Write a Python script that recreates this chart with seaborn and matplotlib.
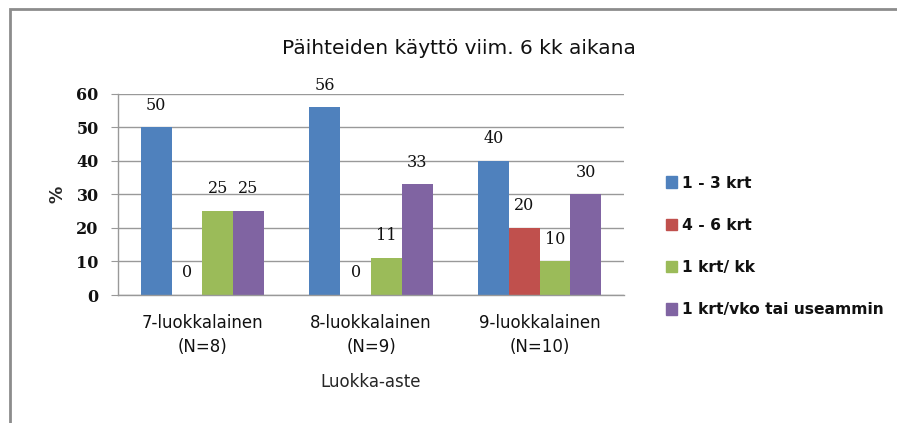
import pandas as pd
import numpy as np
import matplotlib.pyplot as plt
import matplotlib.patches as mpatches
import seaborn as sns

# Data
groups = ['7-luokkalainen\n(N=8)', '8-luokkalainen\n(N=9)', '9-luokkalainen\n(N=10)']
series = ['1 - 3 krt', '4 - 6 krt', '1 krt/ kk', '1 krt/vko tai useammin']
v_1_3 = [50, 56, 40]
v_4_6 = [0, 0, 20]
v_kk = [25, 11, 10]
v_vko = [25, 33, 30]
colors = ['#4F81BD', '#C0504D', '#9BBB59', '#8064A2']

rows = []
for s, vals in zip(series, [v_1_3, v_4_6, v_kk, v_vko]):
    for g, v in zip(groups, vals):
        rows.append({'Luokka': g, 'Sarja': s, 'Arvo': v})
df = pd.DataFrame(rows)

sns.set_style('white')
plt.rcParams['font.family'] = ['DejaVu Sans']
plt.rcParams['text.color'] = '#111111'

fig = plt.figure(figsize=(8.97, 4.23), dpi=100)
ax = fig.add_axes([0.1316, 0.3026, 0.5641, 0.4752])

sns.barplot(data=df, x='Luokka', y='Arvo', hue='Sarja', hue_order=series,
            palette=colors, width=0.73, saturation=1, ax=ax, errorbar=None,
            linewidth=0)

# value labels
for cont in ax.containers:
    ax.bar_label(cont, fmt='%d', padding=10, fontsize=11.5,
                 family='DejaVu Serif', color='#111111')

ax.set_ylim(0, 60)
ax.set_xlim(-0.5, 2.5)
ax.set_yticks(range(0, 61, 10))
ax.yaxis.grid(True, color='#999999', linewidth=1)
ax.set_axisbelow(True)
for sp in ['top', 'right']:
    ax.spines[sp].set_visible(False)
for sp in ['left', 'bottom']:
    ax.spines[sp].set_color('#999999')
    ax.spines[sp].set_linewidth(1)

ax.tick_params(axis='y', left=True, length=5, color='#999999', labelsize=11.5,
               pad=9, labelcolor='#111111')
for lab in ax.get_yticklabels():
    lab.set_family('DejaVu Serif')
    lab.set_fontweight('bold')
ax.set_xticks([0, 1, 2])
ax.set_xticklabels(groups, fontsize=12, color='#111111', linespacing=1.4)
ax.set_xticks([-0.5, 0.5, 1.5, 2.5], minor=True)
ax.tick_params(axis='x', which='major', length=0, pad=14)
ax.tick_params(axis='x', which='minor', length=6, color='#999999', direction='out')

ax.set_xlabel('Luokka-aste', fontsize=12, labelpad=12)
ax.set_ylabel('%', fontsize=12.5, fontweight='bold', labelpad=7)
fig.suptitle('Päihteiden käyttö viim. 6 kk aikana', fontsize=14.5, y=0.908, x=0.512)

handles = [mpatches.Patch(color=c, label=s) for c, s in zip(colors, series)]
ax.legend(handles=handles, loc='upper left', bbox_to_anchor=(1.07, 0.625),
          frameon=False, prop={'size': 11.2, 'weight': 'bold'},
          handlelength=0.75, handleheight=0.75,
          handletextpad=0.3, labelspacing=1.75, borderaxespad=0)

# chart frame (Excel chart border)
fig.add_artist(mpatches.Rectangle((0.0115, -0.05), 1.1, 1.029, transform=fig.transFigure,
                                  fill=False, edgecolor='#8c8c8c', linewidth=2))

fig.savefig('out.png', dpi=100)
